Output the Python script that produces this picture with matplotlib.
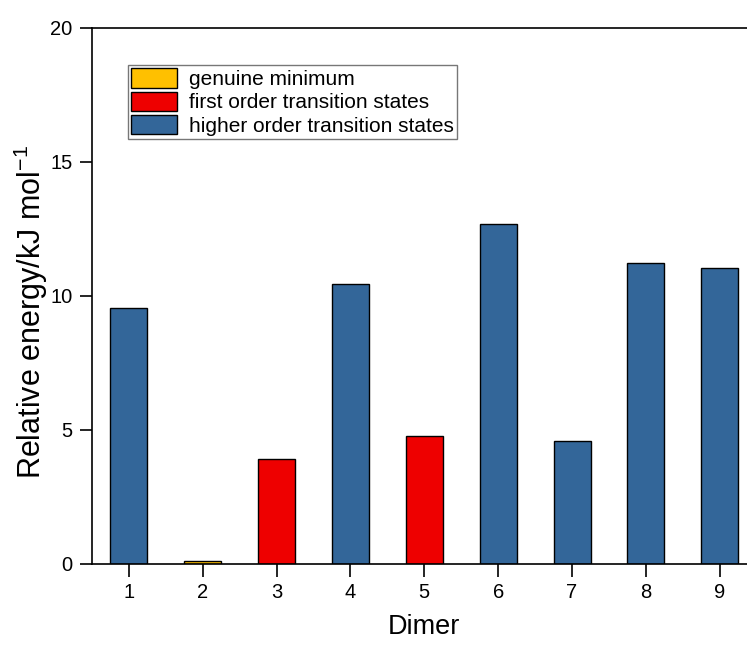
import matplotlib
matplotlib.use('Agg')
import matplotlib.pyplot as plt
from matplotlib.patches import Patch

plt.rcParams['font.family'] = ['Liberation Sans', 'DejaVu Sans']
plt.rcParams['mathtext.fontset'] = 'custom'
plt.rcParams['mathtext.rm'] = 'Liberation Sans'

dimers = [1, 2, 3, 4, 5, 6, 7, 8, 9]
energies = [9.55, 0.1, 3.92, 10.45, 4.78, 12.69, 4.59, 11.23, 11.04]
kinds = ['higher', 'minimum', 'first', 'higher', 'first', 'higher', 'higher', 'higher', 'higher']

colours = {'minimum': '#FFC000', 'first': '#EE0000', 'higher': '#336699'}
names = {'minimum': 'genuine minimum',
         'first': 'first order transition states',
         'higher': 'higher order transition states'}

fig = plt.figure(figsize=(7.47, 6.46), dpi=100)
ax = fig.add_axes([0.123, 0.127, 0.890, 0.830])

ax.bar(dimers, energies, width=0.5, color=[colours[k] for k in kinds],
       edgecolor='black', linewidth=1.0)

ax.set_xlim(0.5, 9.5)
ax.set_ylim(0, 20)
ax.set_xticks(dimers)
ax.set_yticks([0, 5, 10, 15, 20])
ax.tick_params(direction='out', length=9, width=1.2, labelsize=14.5, pad=5)
for s in ax.spines.values():
    s.set_linewidth(1.2)

ax.set_xlabel('Dimer', fontsize=19.5, labelpad=8)
ax.set_ylabel('Relative energy/kJ mol$^{-1}$', fontsize=22)
ax.yaxis.set_label_coords(-0.063, 0.47)

handles = [Patch(facecolor=colours[k], edgecolor='black', label=names[k])
           for k in ['minimum', 'first', 'higher']]
leg = ax.legend(handles=handles, loc='upper left', bbox_to_anchor=(0.054, 0.93),
                fontsize=15, frameon=True, fancybox=False, edgecolor='#555555',
                handlelength=2.2, handleheight=1.05, handletextpad=0.6,
                labelspacing=0.12, borderpad=0.15, borderaxespad=0)
leg.get_frame().set_linewidth(1.0)

fig.savefig('out.png', dpi=100)
